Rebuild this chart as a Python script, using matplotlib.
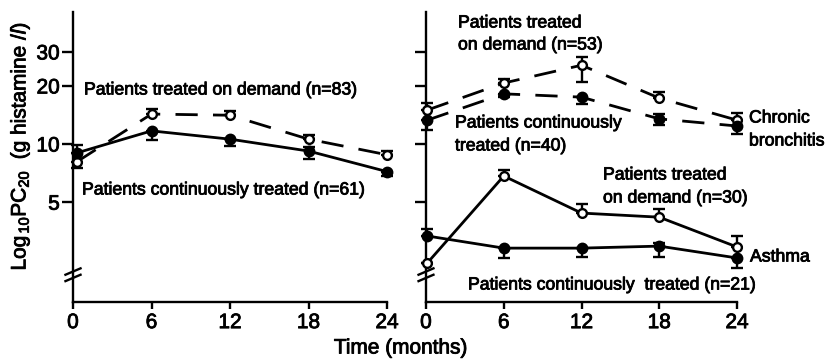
import matplotlib
matplotlib.use("Agg")
import matplotlib.pyplot as plt
import matplotlib.patheffects as pe
from matplotlib.ticker import FixedLocator, NullLocator, FixedFormatter

plt.rcParams['font.family'] = ['Liberation Sans', 'DejaVu Sans']
plt.rcParams['mathtext.fontset'] = 'custom'
plt.rcParams['mathtext.rm'] = 'Liberation Sans'
plt.rcParams['mathtext.it'] = 'Liberation Sans:italic'

# ---------------- data ----------------
months = [0, 6, 12, 18, 24]
x_left = [0.3, 6, 12, 18, 24]
x_right = [0.1, 6, 12, 18, 24]
y_ticks = [5, 10, 20, 30]

# left panel
demand_left = [8.1, 14.3, 14.1, 10.6, 8.8]
demand_left_err_lo = [0.6, 0, 0, 0, 0]
demand_left_err_hi = [0, 0.9, 0.7, 0.5, 0.4]
cont_left = [9.0, 11.7, 10.6, 9.2, 7.2]
cont_left_err_lo = [0, 1.2, 0.85, 0.85, 0.35]
cont_left_err_hi = [0.9, 0, 0, 0.5, 0]

# right panel: chronic bronchitis
cb_demand = [15.0, 20.7, 25.6, 17.3, 13.3]
cb_demand_err_lo = [0, 0, 4.6, 0, 0]
cb_demand_err_hi = [1.3, 1.0, 2.6, 1.3, 1.2]
cb_cont = [13.3, 18.2, 17.5, 13.5, 12.4]
cb_cont_err_lo = [1.5, 0.6, 1.4, 0.9, 1.1]
cb_cont_err_hi = [0, 0, 0, 0.8, 0]

# right panel: asthma
asthma_demand = [2.42, 6.83, 4.39, 4.18, 2.93]
asthma_demand_err_lo = [0, 0, 0, 0, 0]
asthma_demand_err_hi = [0, 0.5, 0.5, 0.42, 0.41]
asthma_cont = [3.34, 2.89, 2.89, 2.96, 2.57]
asthma_cont_err_lo = [0, 0.32, 0.29, 0.36, 0.29]
asthma_cont_err_hi = [0.29, 0, 0, 0.1, 0]

# ---------------- figure ----------------
W, H = 836, 360
fig = plt.figure(figsize=(W / 100, H / 100), dpi=100)

def px_axes(x0, y_top, x1, y_bot):
    return fig.add_axes([x0 / W, 1 - y_bot / H, (x1 - x0) / W, (y_bot - y_top) / H])

ax1 = px_axes(73, 12, 387, 302)
ax2 = px_axes(426, 12, 737, 302)

LW = 2.0
DASH = (0, (8, 5.5))
BOLD = [pe.withStroke(linewidth=0.6, foreground='black')]

def series(ax, x, y, lo, hi, filled, ls):
    ax.errorbar(x, y, yerr=[lo, hi], fmt='o', linestyle=ls, color='black',
                lw=LW, ms=6.8 if filled else 6.3,
                mfc='black' if filled else 'white', mec='black', mew=1.7,
                ecolor='black', elinewidth=1.7, capsize=4, capthick=1.9,
                zorder=3, clip_on=False)

series(ax1, x_left, demand_left, demand_left_err_lo, demand_left_err_hi, False, DASH)
series(ax1, x_left, cont_left, cont_left_err_lo, cont_left_err_hi, True, '-')

series(ax2, x_right, cb_demand, cb_demand_err_lo, cb_demand_err_hi, False, DASH)
series(ax2, x_right, cb_cont, cb_cont_err_lo, cb_cont_err_hi, True, DASH)
series(ax2, x_right, asthma_demand, asthma_demand_err_lo, asthma_demand_err_hi, False, '-')
series(ax2, x_right, asthma_cont, asthma_cont_err_lo, asthma_cont_err_hi, True, '-')

for ax in (ax1, ax2):
    ax.set_yscale('log')
    ax.set_ylim(1.52, 48.3)
    ax.set_xlim(0, 24)
    for s in ('top', 'right'):
        ax.spines[s].set_visible(False)
    for s in ('left', 'bottom'):
        ax.spines[s].set_linewidth(1.7)
    ax.yaxis.set_major_locator(FixedLocator(y_ticks))
    ax.yaxis.set_minor_locator(NullLocator())
    ax.set_xticks(months)
    ax.set_xticklabels([str(m) for m in months])
    ax.tick_params(axis='x', direction='out', length=5, width=1.7, pad=3, labelsize=15)
    ax.tick_params(axis='y', direction='out', length=8, width=1.7, pad=1.5, labelsize=15)
    # axis break marks
    for dy in (0.0, 0.022):
        ax.plot([-0.024, 0.024], [0.072 + dy, 0.094 + dy], transform=ax.transAxes,
                color='black', lw=1.7, clip_on=False)

ax1.yaxis.set_major_formatter(FixedFormatter([str(t) for t in y_ticks]))
ax2.set_yticklabels([])
for ax in (ax1, ax2):
    for lab in ax.get_xticklabels() + ax.get_yticklabels():
        lab.set_path_effects(BOLD)

# ---------------- texts ----------------
FS = 12.7

def ftext(x, y, s, **kw):
    fig.text(x / W, 1 - y / H, s, fontsize=kw.pop('fontsize', FS), va='center',
             ha=kw.pop('ha', 'left'), path_effects=BOLD, **kw)

ftext(84, 90, 'Patients treated on demand (n=83)')
ftext(82, 190, 'Patients continuously treated (n=61)')
ftext(458, 23, 'Patients treated')
ftext(458, 45, 'on demand (n=53)')
ftext(455, 123, 'Patients continuously')
ftext(455, 146, 'treated (n=40)')
ftext(749, 118, 'Chronic')
ftext(749, 141, 'bronchitis')
ftext(603, 175, 'Patients treated')
ftext(603, 198, 'on demand (n=30)')
ftext(750, 257, 'Asthma')
ftext(468, 285, 'Patients continuously  treated (n=21)')

ftext(401, 348, 'Time (months)', ha='center', fontsize=15)
fig.text(20 / W, 1 - 146 / H, r'Log$_{\,10}$PC$_{20}$  (g histamine /$l$)',
         rotation=90, ha='center', va='center', fontsize=15, path_effects=BOLD)

fig.savefig('out.png', dpi=100)
